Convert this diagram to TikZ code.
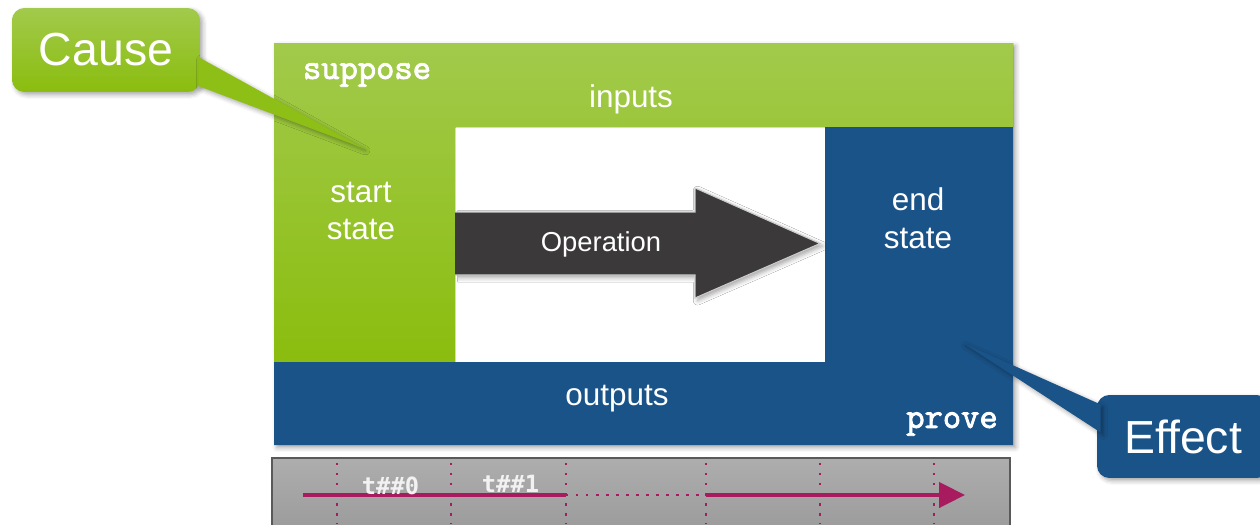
\documentclass[tikz,border=0pt]{standalone}
\usepackage{fontspec}
\setmainfont{Liberation Sans}
\newfontfamily\codefont{Latin Modern Mono}[FakeBold=2.5]
\newfontfamily\tickfont{DejaVu Sans Mono}
\usetikzlibrary{arrows.meta,calc,shadows.blur}

\definecolor{leaf}{HTML}{A2CA4C}
\definecolor{leafdark}{HTML}{8ABD0E}
\definecolor{navy}{HTML}{1A5388}
\definecolor{slate}{HTML}{3B393A}
\definecolor{plum}{HTML}{A81C5F}

\begin{document}
\begin{tikzpicture}[x=0.02cm, y=-0.02cm,
    soft/.style={blur shadow={shadow xshift=1.5pt, shadow yshift=-1.5pt, shadow blur radius=2.5pt, shadow opacity=35}},
    label/.style={text=white, font=\fontsize{17.9}{21.5}\selectfont, align=center},
    code/.style={text=white, font=\codefont\fontsize{20.2}{22}\selectfont},
    callout/.style={soft, rounded corners=7pt, text=white, font=\fontsize{26.4}{30}\selectfont},
    tick/.style={plum, line width=1.4pt, dash pattern=on 1.4pt off 4.3pt},
    timeline/.style={plum, line width=2.3pt}]
    \useasboundingbox (0,0) rectangle (1260,524);

    % Callout boxes
    \node[callout, top color=leaf, bottom color=leafdark, minimum width=3.76cm, minimum height=1.68cm] (cause) at (106,50) {Cause};
    \node[callout, fill=navy, minimum width=3.44cm, minimum height=1.66cm] (effect) at (1183,436.5) {Effect};

    % Frame
    \fill[white, soft] (274,43) rectangle (1013,445);
    \fill[top color=leaf, bottom color=leafdark] (274,43) -- (1013,43) -- (1013,127) -- (455,127) -- (455,362) -- (274,362) -- cycle;
    \fill[navy] (825,127) -- (1013,127) -- (1013,445) -- (274,445) -- (274,362) -- (825,362) -- cycle;

    \node[code] (suppose) at (367,75) {suppose};
    \node[label] (inputs) at (631,99) {inputs};
    \node[label] (start) at (361,211) {start\\state};
    \node[label] (end) at (918,218) {end\\state};
    \node[label] (outputs) at (617,399) {outputs};
    \node[code] (prove) at (952,424) {prove};

    % Operation arrow
    \fill[slate, draw=black!20, line width=0.6pt, soft] (455,212) -- (695,212) -- (695,188) -- (820,243.5) -- (695,298) -- (695,275) -- (455,275);
    \node[label, font=\fontsize{15.6}{18}\selectfont] (op) at (601,244) {Operation};

    % Pointers
    \coordinate (causetip) at (363,148);
    \coordinate (effecttip) at (963,343);
    \fill[leafdark!85!leaf, soft] ($(cause.east)+(-2,7)$) -- (causetip) -- ($(cause.east)+(-2,36)$) -- cycle;
    \fill[navy, soft] ($(effect.west)+(4,-32)$) -- (effecttip) -- ($(effect.west)+(4,-4)$) -- cycle;

    % Timeline
    \draw[draw=black!65, line width=1pt, top color=black!32, bottom color=black!40] (272,458) rectangle (1010,540);
    \foreach \x in {337,451,566,706,820,934}
        \draw[tick] (\x,463) -- (\x,524);
    \coordinate (t0) at (303,495);
    \coordinate (t1) at (566,495);
    \coordinate (t2) at (706,495);
    \coordinate (t3) at (965,495);
    \draw[timeline] (t0) -- (t1);
    \draw[plum, line width=1.6pt, dash pattern=on 1.4pt off 4.3pt] (t1) -- (t2);
    \draw[timeline, -{Triangle[length=14.7pt, width=14.2pt]}] (t2) -- (t3);
    \node[text=black!5, font=\tickfont\bfseries\fontsize{13.5}{15}\selectfont] (n0) at (390.5,485.5) {t\#\#0};
    \node[text=black!5, font=\tickfont\bfseries\fontsize{13.5}{15}\selectfont] (n1) at (510.5,483.5) {t\#\#1};
\end{tikzpicture}
\end{document}
